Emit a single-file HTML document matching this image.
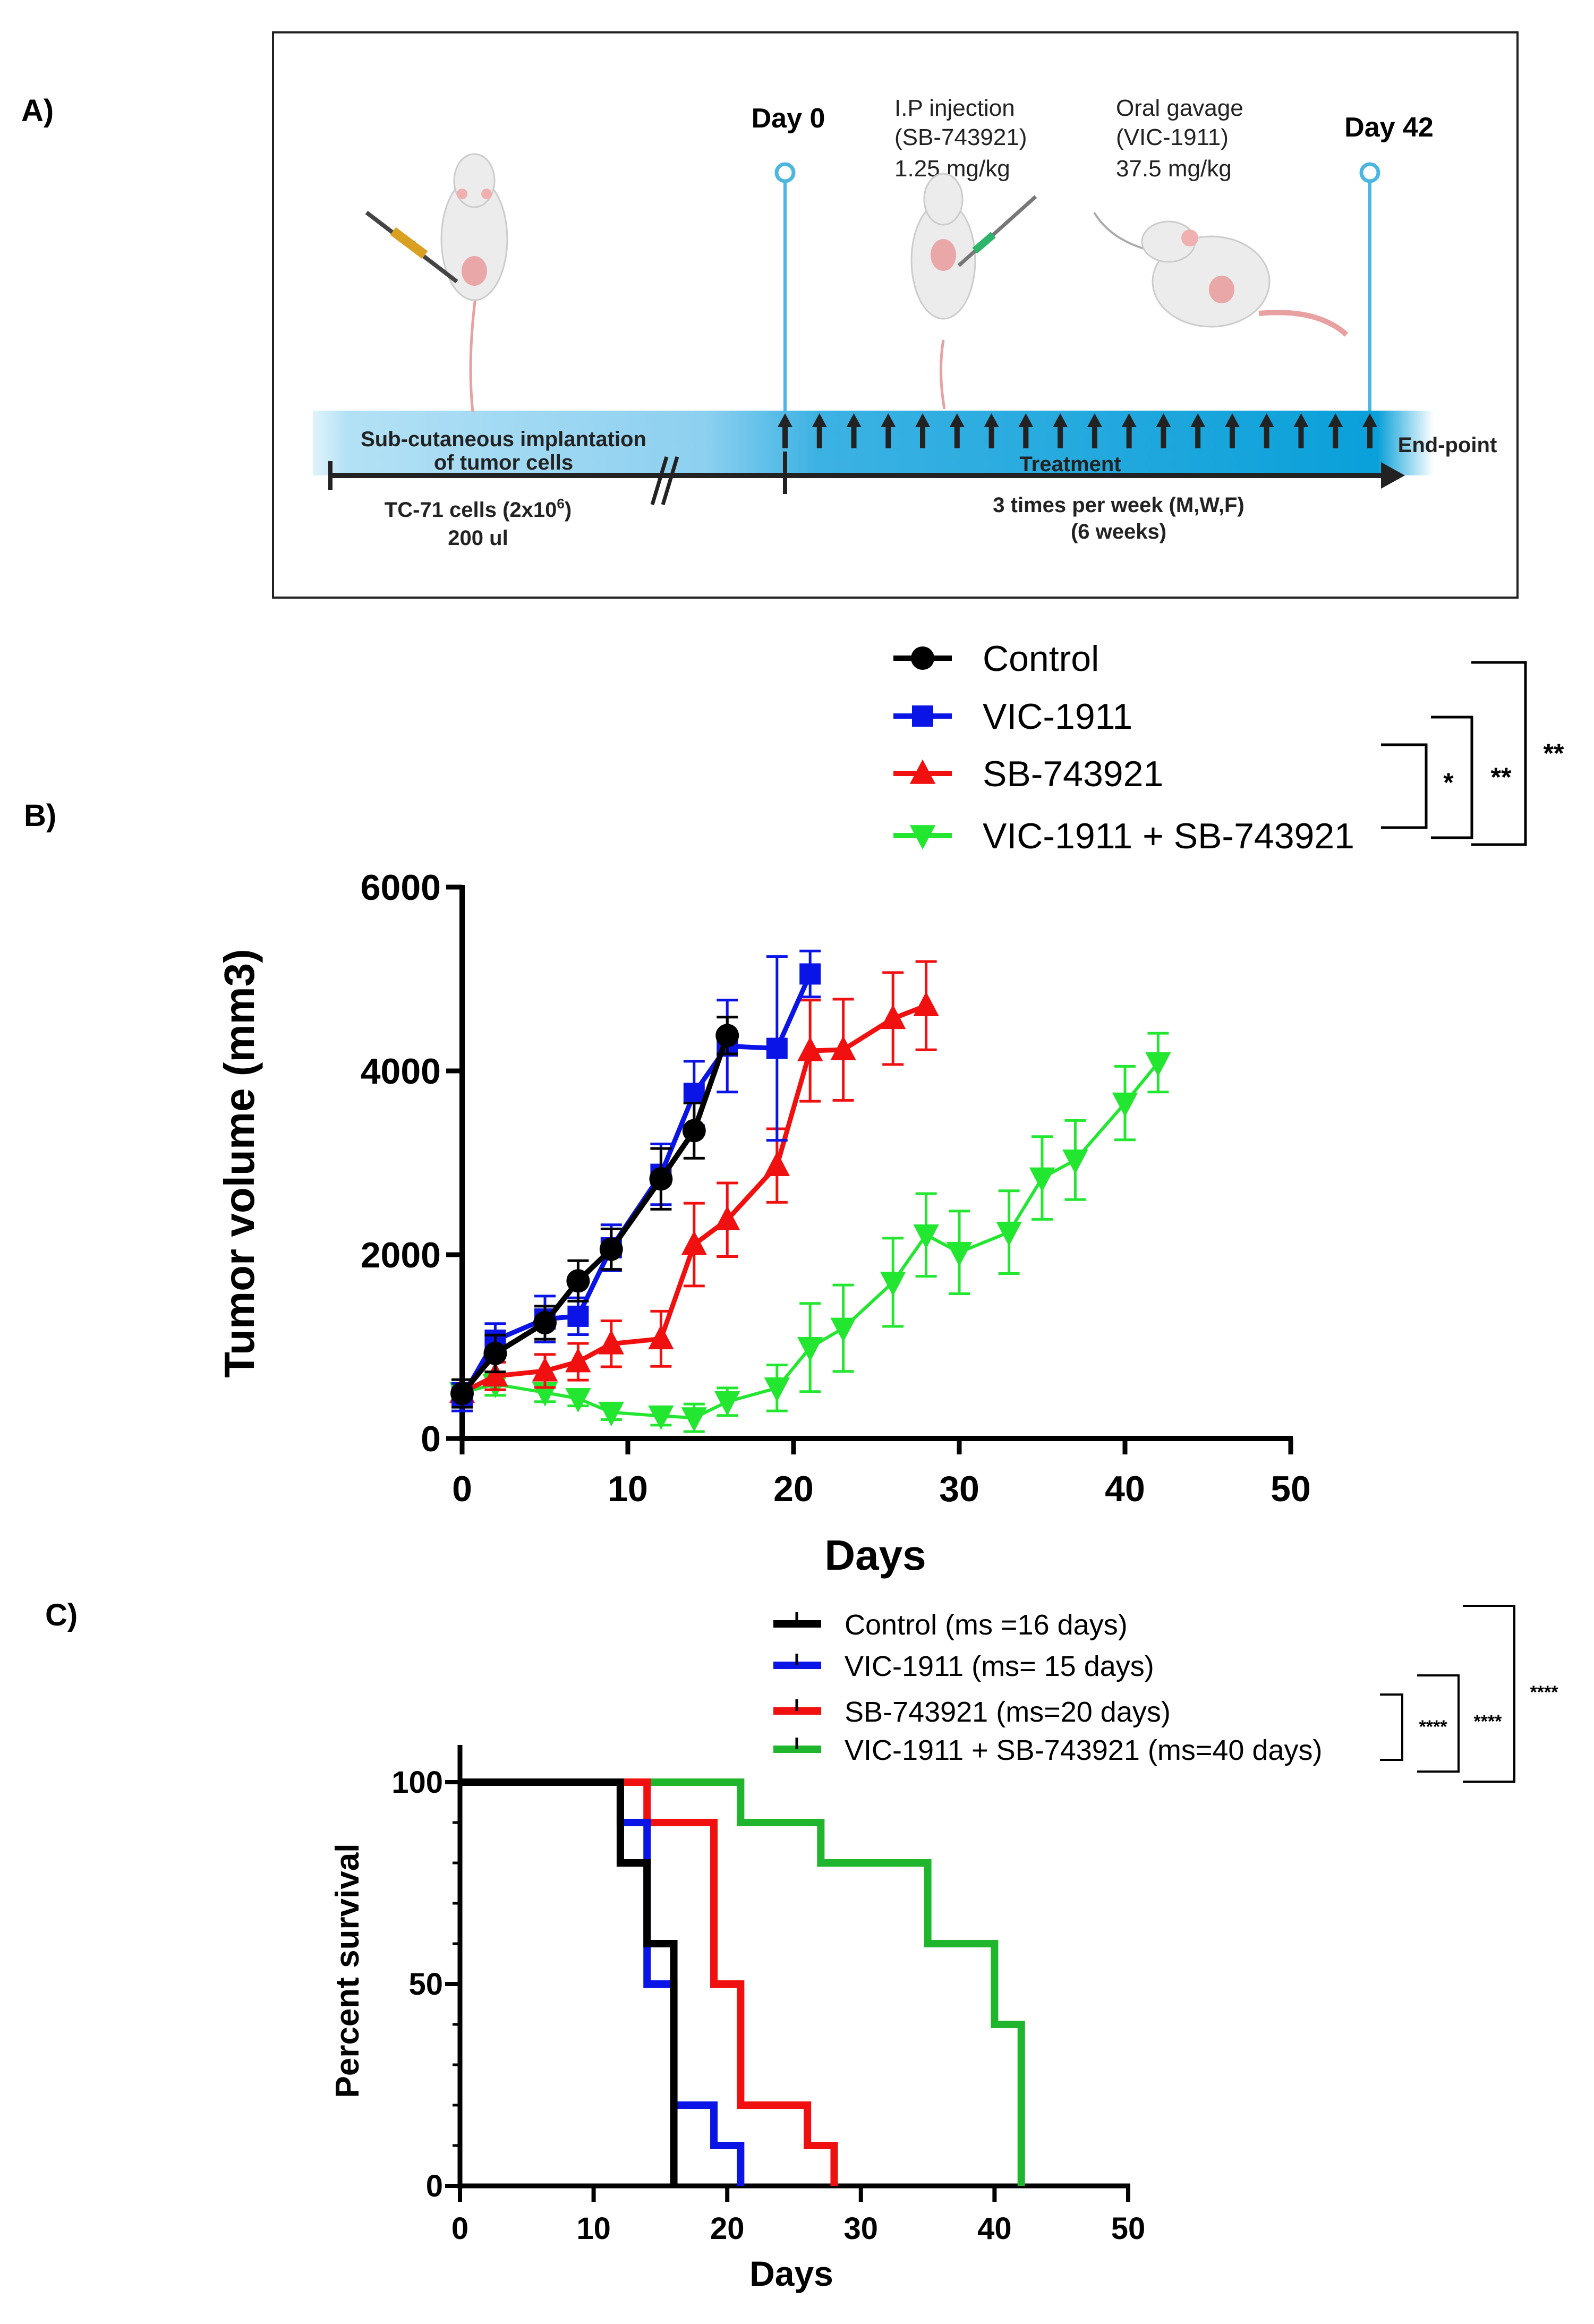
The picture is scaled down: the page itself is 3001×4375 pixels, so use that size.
<!DOCTYPE html>
<html><head><meta charset="utf-8"><style>
html,body{margin:0;padding:0;background:#fff}
svg{display:block}
text{font-family:"Liberation Sans",Arial,sans-serif}
</style></head><body>
<svg id="fig" width="3001" height="4375" viewBox="0 0 3001 4375" xmlns="http://www.w3.org/2000/svg">
<defs>
<linearGradient id="band" x1="0" x2="1" y1="0" y2="0">
<stop offset="0" stop-color="#bfe6f7" stop-opacity="0.5"/>
<stop offset="0.03" stop-color="#b3e1f5"/>
<stop offset="0.35" stop-color="#8dd0f0"/>
<stop offset="0.45" stop-color="#3cb2e3"/>
<stop offset="0.95" stop-color="#0aa0d9"/>
<stop offset="1" stop-color="#0aa0d9" stop-opacity="0"/>
</linearGradient>
</defs>
<!-- Panel A -->
<g>
<text x="40" y="228" font-size="58" font-weight="bold">A)</text>
<rect x="514" y="61" width="2343" height="1064" fill="none" stroke="#222" stroke-width="4"/>
<rect x="589" y="773" width="2110" height="122" fill="url(#band)"/>
<line x1="622" y1="895" x2="2610" y2="895" stroke="#222" stroke-width="10"/>
<polygon points="2600,870 2645,895 2600,920" fill="#222"/>
<line x1="622" y1="868" x2="622" y2="922" stroke="#222" stroke-width="8"/>
<line x1="1478" y1="850" x2="1478" y2="930" stroke="#222" stroke-width="8"/>
<line x1="1228" y1="950" x2="1255" y2="860" stroke="#222" stroke-width="7"/>
<line x1="1248" y1="950" x2="1275" y2="860" stroke="#222" stroke-width="7"/>
<line x1="1478" y1="340" x2="1478" y2="773" stroke="#4cb5e0" stroke-width="6"/>
<circle cx="1478" cy="325" r="16" fill="#fff" stroke="#4cb5e0" stroke-width="7"/>
<line x1="2579" y1="340" x2="2579" y2="773" stroke="#4cb5e0" stroke-width="6"/>
<circle cx="2579" cy="325" r="16" fill="#fff" stroke="#4cb5e0" stroke-width="7"/>
<g id="arrows"></g>
<text x="1484" y="240" font-size="52" font-weight="bold" text-anchor="middle">Day 0</text>
<text x="2615" y="257" font-size="52" font-weight="bold" text-anchor="middle">Day 42</text>
<g font-size="44" fill="#222">
<text x="1684" y="218">I.P injection</text><text x="1684" y="273">(SB-743921)</text><text x="1684" y="332">1.25 mg/kg</text></g>
<g font-size="44" fill="#222">
<text x="2101" y="218">Oral gavage</text><text x="2101" y="273">(VIC-1911)</text><text x="2101" y="332">37.5 mg/kg</text></g>
<g font-size="40" font-weight="bold" text-anchor="middle" fill="#222">
<text x="948" y="840">Sub-cutaneous implantation</text>
<text x="948" y="884">of tumor cells</text>
<text x="900" y="973">TC-71 cells (2x10<tspan font-size="26" dy="-16">6</tspan><tspan dy="16">)</tspan></text>
<text x="900" y="1026">200 ul</text>
<text x="2015" y="887">Treatment</text>
<text x="2106" y="964">3 times per week (M,W,F)</text>
<text x="2106" y="1014">(6 weeks)</text>
<text x="2725" y="851">End-point</text>
</g>
<!-- mice -->
<g>
<path d="M895 560 Q880 680 890 775" stroke="#e8a0a0" stroke-width="5" fill="none"/>
<ellipse cx="893" cy="450" rx="62" ry="115" fill="#ececec" stroke="#ccc" stroke-width="3"/>
<ellipse cx="893" cy="340" rx="38" ry="50" fill="#ececec" stroke="#ccc" stroke-width="3"/>
<circle cx="870" cy="365" r="10" fill="#f0b0b0"/><circle cx="916" cy="365" r="10" fill="#f0b0b0"/>
<ellipse cx="893" cy="510" rx="24" ry="28" fill="#e9a7a7"/>
<line x1="690" y1="400" x2="860" y2="530" stroke="#444" stroke-width="8"/>
<line x1="740" y1="435" x2="800" y2="480" stroke="#d9a021" stroke-width="18"/>
</g>
<g>
<path d="M1776 640 Q1766 700 1778 770" stroke="#e8a0a0" stroke-width="5" fill="none"/>
<ellipse cx="1776" cy="490" rx="60" ry="110" fill="#ececec" stroke="#ccc" stroke-width="3"/>
<ellipse cx="1776" cy="375" rx="36" ry="48" fill="#ececec" stroke="#ccc" stroke-width="3"/>
<ellipse cx="1776" cy="480" rx="24" ry="30" fill="#e9a7a7"/>
<line x1="1805" y1="500" x2="1950" y2="370" stroke="#777" stroke-width="7"/>
<line x1="1835" y1="472" x2="1870" y2="442" stroke="#2db36a" stroke-width="14"/>
</g>
<g>
<path d="M2060 400 Q2090 450 2160 470" stroke="#aaa" stroke-width="4" fill="none"/>
<ellipse cx="2280" cy="530" rx="110" ry="85" fill="#ececec" stroke="#ccc" stroke-width="3"/>
<ellipse cx="2200" cy="455" rx="50" ry="38" fill="#ececec" stroke="#ccc" stroke-width="3"/>
<circle cx="2240" cy="448" r="16" fill="#f0b0b0"/>
<ellipse cx="2300" cy="545" rx="24" ry="26" fill="#e9a7a7"/>
<path d="M2370 590 Q2480 580 2535 630" stroke="#e8a0a0" stroke-width="10" fill="none"/>
</g>
</g>

<!-- Panel B -->
<g id="panelB">
<text x="45" y="1555" font-size="58" font-weight="bold">B)</text>
</g>
<!-- Panel C -->
<g id="panelC">
<text x="85" y="3060" font-size="58" font-weight="bold">C)</text>
</g>
</svg>
<script>
// ---- Panel B data ----
const bSeriesNames = ["Control","VIC-1911","SB-743921","VIC-1911 + SB-743921"];
const bColors = ["#000000","#0a14e6","#f01010","#22e630"];
const bDaysControl = [0,2,5,7,9,12,14,16];
const bMeanControl = [490,925,1260,1715,2060,2825,3350,4385];
const bErrControl = [150,200,180,220,220,330,300,200];
const bDaysVIC = [0,2,5,7,9,12,14,16,19,21];
const bMeanVIC = [450,1070,1300,1330,2075,2875,3755,4270,4245,5055];
const bErrVIC = [150,180,250,200,250,330,350,500,1000,250];
const bDaysSB = [0,2,5,7,9,12,14,16,19,21,23,26,28];
const bMeanSB = [500,680,735,835,1030,1085,2110,2380,2970,4220,4230,4570,4710];
const bErrSB = [100,150,180,200,250,300,450,400,400,550,550,500,480];
const bDaysCombo = [0,2,5,7,9,12,14,16,19,21,23,26,28,30,33,35,37,40,42];
const bMeanCombo = [500,590,500,435,285,245,225,400,550,990,1200,1700,2215,2025,2245,2835,3030,3650,4090];
const bErrCombo = [100,120,100,80,80,100,150,150,250,480,470,480,450,450,450,450,430,400,320];
const bXTicks = [0,10,20,30,40,50];
const bYTicks = [0,2000,4000,6000];
// ---- Panel C data ----
const cSeriesNames = ["Control (ms =16 days)","VIC-1911 (ms= 15 days)","SB-743921 (ms=20 days)","VIC-1911 + SB-743921 (ms=40 days)"];
const cColors = ["#000000","#0a14e6","#f01010","#1fb52c"];
const cDaysControl = [0,12,14,16];
const cSurvControl = [100,80,60,0];
const cDaysVIC = [0,12,14,16,19,21];
const cSurvVIC = [100,90,50,20,10,0];
const cDaysSB = [0,14,19,21,26,28];
const cSurvSB = [100,90,50,20,10,0];
const cDaysCombo = [0,21,27,35,40,42];
const cSurvCombo = [100,90,80,60,40,0];
const cXTicks = [0,10,20,30,40,50];
const cYTicks = [0,50,100];

const NS="http://www.w3.org/2000/svg";
function mk(parent,tag,attrs,txt){const e=document.createElementNS(NS,tag);for(const k in attrs)e.setAttribute(k,attrs[k]);if(txt!==undefined)e.textContent=txt;parent.appendChild(e);return e;}

// arrows in panel A
(function(){
  const g=document.getElementById('arrows');
  for(let i=0;i<18;i++){
    const x=1478+i*(2579-1478)/17;
    const a=mk(g,'path',{d:`M${x} 778 l-14 26 h9 v40 h10 v-40 h9 z`,fill:'#222'});
    
    
  }
})();

// ---- Panel B ----
(function(){
  const g=document.getElementById('panelB');
  const X0=870,X1=2430,Y0=2708,Y1=1670;
  const sx=d=>X0+(d-0)/50*(X1-X0);
  const sy=v=>Y0-(v/6000)*(Y0-Y1);
  const ax=mk(g,'line',{x1:X0,y1:Y0,x2:X1+4,y2:Y0,stroke:'#000','stroke-width':10});
  
  const ay=mk(g,'line',{x1:X0,y1:Y0+5,x2:X0,y2:Y1-4,stroke:'#000','stroke-width':10});
  
  bXTicks.forEach(t=>{
    mk(g,'line',{x1:sx(t),y1:Y0,x2:sx(t),y2:Y0+30,stroke:'#000','stroke-width':9});
    const l=mk(g,'text',{x:sx(t),y:Y0+118,'font-size':68,'font-weight':'bold','text-anchor':'middle'},String(t));
    
  });
  bYTicks.forEach(t=>{
    mk(g,'line',{x1:X0-30,y1:sy(t),x2:X0,y2:sy(t),stroke:'#000','stroke-width':9});
    const l=mk(g,'text',{x:X0-40,y:sy(t)+24,'font-size':68,'font-weight':'bold','text-anchor':'end'},String(t));
    
  });
  const xt=mk(g,'text',{x:1648,y:2955,'font-size':80,'font-weight':'bold','text-anchor':'middle'},'Days');
  
  const yt=mk(g,'text',{x:0,y:0,'font-size':80,'font-weight':'bold','text-anchor':'middle',transform:'translate(478,2190) rotate(-90)'},'Tumor volume (mm3)');
  

  const series=[[bDaysControl,bMeanControl,bErrControl],[bDaysVIC,bMeanVIC,bErrVIC],[bDaysSB,bMeanSB,bErrSB],[bDaysCombo,bMeanCombo,bErrCombo]];
  const order=[3,2,1,0];
  function marker(p,k,x,y,s,c){
    if(k===0)return mk(p,'circle',{cx:x,cy:y,r:s,fill:c});
    if(k===1)return mk(p,'rect',{x:x-s,y:y-s,width:2*s,height:2*s,fill:c});
    if(k===2)return mk(p,'polygon',{points:`${x},${y-s*1.2} ${x+s*1.1},${y+s*0.9} ${x-s*1.1},${y+s*0.9}`,fill:c});
    return mk(p,'polygon',{points:`${x},${y+s*1.2} ${x+s*1.1},${y-s*0.9} ${x-s*1.1},${y-s*0.9}`,fill:c});
  }
  order.forEach(k=>{
    const [d,m,e]=series[k];const c=bColors[k];
    const sg=mk(g,'g',{});
    
    
    const lw=(k===3)?6:(k===0?10:9);
    d.forEach((dd,i)=>{
      const x=sx(dd);
      const eb=mk(sg,'path',{d:`M${x} ${sy(m[i]-e[i])}V${sy(m[i]+e[i])}M${x-20} ${sy(m[i]+e[i])}h40M${x-20} ${sy(m[i]-e[i])}h40`,stroke:c,'stroke-width':5,fill:'none'});
      
    });
    const pts=d.map((dd,i)=>sx(dd)+','+sy(m[i])).join(' ');
    const pl=mk(sg,'polyline',{points:pts,fill:'none',stroke:c,'stroke-width':lw,'stroke-linejoin':'round'});
    
    d.forEach((dd,i)=>{
      const mm=marker(sg,k,sx(dd),sy(m[i]),k===1?20:22,c);
      
    });
  });
  // legend
  const rows=[1239,1348,1456,1573];
  const lg=mk(g,'g',{});
  
  rows.forEach((y,k)=>{
    const e=mk(lg,'g',{});
    
    mk(e,'line',{x1:1682,y1:y,x2:1792,y2:y,stroke:bColors[k],'stroke-width':10});
    marker(e,k,1737,y,k===1?20:22,bColors[k]);
    mk(e,'text',{x:1850,y:y+24,'font-size':68},bSeriesNames[k]);
  });
  // significance brackets
  const br=[[2600,2685,1402,1558,2727,1490,'*'],[2694,2771,1350,1577,2826,1480,'**'],[2770,2872,1247,1590,2925,1435,'**']];
  br.forEach(b=>{
    const p=mk(g,'path',{d:`M${b[0]} ${b[2]}H${b[1]}V${b[3]}H${b[0]}`,fill:'none',stroke:'#000','stroke-width':5});
    
    const t=mk(g,'text',{x:b[4],y:b[5],'font-size':50,'text-anchor':'middle','font-weight':'bold'},b[6]);
    
  });
})();

// ---- Panel C ----
(function(){
  const g=document.getElementById('panelC');
  const X0=866,X1=2124,Y0=4115,Y1=3355;
  const sx=d=>X0+d/50*(X1-X0);
  const sy=v=>Y0-v/100*(Y0-Y1);
  const ax=mk(g,'line',{x1:X0,y1:Y0,x2:X1+4,y2:Y0,stroke:'#000','stroke-width':9});
  
  const ay=mk(g,'line',{x1:X0,y1:Y0+5,x2:X0,y2:3285,stroke:'#000','stroke-width':9});
  
  for(let v=0;v<=120;v+=10){ if(sy(v)<3285)break; mk(g,'line',{x1:X0-14,y1:sy(v),x2:X0,y2:sy(v),stroke:'#000','stroke-width':5}); }
  cXTicks.forEach(t=>{
    mk(g,'line',{x1:sx(t),y1:Y0,x2:sx(t),y2:Y0+30,stroke:'#000','stroke-width':8});
    const l=mk(g,'text',{x:sx(t),y:Y0+100,'font-size':58,'font-weight':'bold','text-anchor':'middle'},String(t));
    
  });
  cYTicks.forEach(t=>{
    mk(g,'line',{x1:X0-28,y1:sy(t),x2:X0,y2:sy(t),stroke:'#000','stroke-width':8});
    const l=mk(g,'text',{x:X0-32,y:sy(t)+20,'font-size':58,'font-weight':'bold','text-anchor':'end'},String(t));
    
  });
  const xt=mk(g,'text',{x:1490,y:4303,'font-size':66,'font-weight':'bold','text-anchor':'middle'},'Days');
  
  const yt=mk(g,'text',{x:0,y:0,'font-size':62,'font-weight':'bold','text-anchor':'middle',transform:'translate(675,3710) rotate(-90)'},'Percent survival');
  
  const series=[[cDaysControl,cSurvControl],[cDaysVIC,cSurvVIC],[cDaysSB,cSurvSB],[cDaysCombo,cSurvCombo]];
  [3,2,1,0].forEach(k=>{
    const [d,s]=series[k];
    let p=`M${sx(d[0])} ${sy(s[0])}`;
    for(let i=1;i<d.length;i++){p+=`H${sx(d[i])}V${sy(s[i])}`;}
    const e=mk(g,'path',{d:p,fill:'none',stroke:cColors[k],'stroke-width':14,'stroke-linejoin':'miter'});
    
    
  });
  const rows=[3057,3135,3221,3293];
  const lg=mk(g,'g',{});
  
  rows.forEach((y,k)=>{
    const e=mk(lg,'g',{});
    
    mk(e,'line',{x1:1456,y1:y,x2:1546,y2:y,stroke:cColors[k],'stroke-width':14});
    mk(e,'line',{x1:1500,y1:y-22,x2:1500,y2:y,stroke:'#000','stroke-width':5});
    mk(e,'text',{x:1590,y:y+20,'font-size':54},cSeriesNames[k]);
  });
  const br=[[2598,2640,3190,3313,2698,3262],[2668,2746,3154,3335,2801,3252],[2754,2851,3023,3354,2907,3197]];
  br.forEach(b=>{
    const p=mk(g,'path',{d:`M${b[0]} ${b[2]}H${b[1]}V${b[3]}H${b[0]}`,fill:'none',stroke:'#000','stroke-width':4});
    
    const t=mk(g,'text',{x:b[4],y:b[5],'font-size':34,'text-anchor':'middle','font-weight':'bold'},'****');
    
  });
})();
</script>
</body></html>
